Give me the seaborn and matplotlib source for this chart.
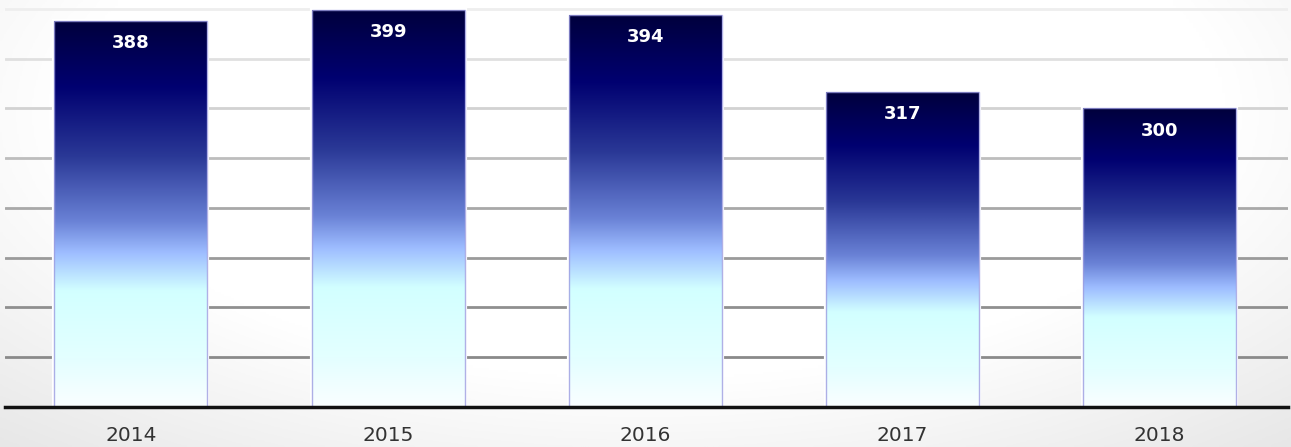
import numpy as np
import pandas as pd
import matplotlib
matplotlib.use("Agg")
import matplotlib.pyplot as plt
from matplotlib.colors import LinearSegmentedColormap
import seaborn as sns

# data
years = ["2014", "2015", "2016", "2017", "2018"]
values = [388, 399, 394, 317, 300]

grid_levels = [50, 100, 150, 200, 250, 300, 350, 400]
grid_colors = ["#8a8a8a", "#8f8f8f", "#9a9a9a", "#a8a8a8", "#bdbdbd", "#d2d2d2", "#e0e0e0", "#eeeeee"]

df = pd.DataFrame({"year": years, "value": values})

sns.set_style("white")
plt.rcParams["font.family"] = ["DejaVu Sans"]

fig = plt.figure(figsize=(12.91, 4.47), dpi=100)

# faint grey vignette behind everything, stronger toward the bottom corners
bg = fig.add_axes([0, 0, 1, 1], zorder=-1)
yy, xx = np.mgrid[-1:1:200j, -1:1:400j]
r = np.clip(np.sqrt((xx * 0.8) ** 2 + ((yy + 0.5) * 0.6) ** 2) - 0.72, 0, None)
bg.imshow(r, cmap=LinearSegmentedColormap.from_list("bg", ["#ffffff", "#e4e4e4"]),
          aspect="auto", vmin=0, vmax=0.55, extent=[0, 1, 0, 1])
bg.axis("off")

ax = fig.add_axes([5 / 1291, 40 / 447, 1283 / 1291, 407 / 447])
ax.patch.set_alpha(0)

# bars: white body hides the grid, gradient is painted on top
sns.barplot(data=df, x="year", y="value", ax=ax, color="white", width=0.595,
            edgecolor="white", linewidth=3, zorder=2)

for lvl, c in zip(grid_levels, grid_colors):
    ax.axhline(lvl, color=c, linewidth=2, zorder=1)

# vertical gradient: dark navy at the top fading to pale cyan / white
grad = LinearSegmentedColormap.from_list("bargrad", [
    (0.0, "#00003c"),
    (0.17, "#000070"),
    (0.35, "#2a3896"),
    (0.52, "#6a82d6"),
    (0.60, "#9dbcff"),
    (0.70, "#d2ffff"),
    (0.88, "#e4ffff"),
    (1.0, "#fafeff"),
])
ramp = np.linspace(0, 1, 256).reshape(-1, 1)

for patch, v in zip(ax.patches, values):
    x0 = patch.get_x()
    w = patch.get_width()
    im = ax.imshow(ramp, cmap=grad, aspect="auto", extent=[x0, x0 + w, 0, v],
                   origin="upper", zorder=3, interpolation="bicubic")
    im.set_clip_path(patch)
    ax.add_patch(plt.Rectangle((x0, 0), w, v, fill=False, edgecolor="#9c9ce0",
                               linewidth=1, zorder=4, alpha=0.8))
    ax.text(x0 + w / 2, v - 22.5, str(v), ha="center", va="center", color="white",
            fontsize=13, fontweight="bold", zorder=5)

ax.set_xlim(-0.49, 4.5)
ax.set_ylim(0, 409)
ax.set_xlabel("")
ax.set_ylabel("")
ax.set_yticks([])
ax.tick_params(axis="x", length=0, labelsize=14.5, labelcolor="#333333", pad=14)

for side in ["top", "right", "left"]:
    ax.spines[side].set_visible(False)
ax.spines["bottom"].set_color("#111111")
ax.spines["bottom"].set_linewidth(2.5)
ax.spines["bottom"].set_zorder(6)

fig.savefig("out.png", dpi=100)
plt.close()
